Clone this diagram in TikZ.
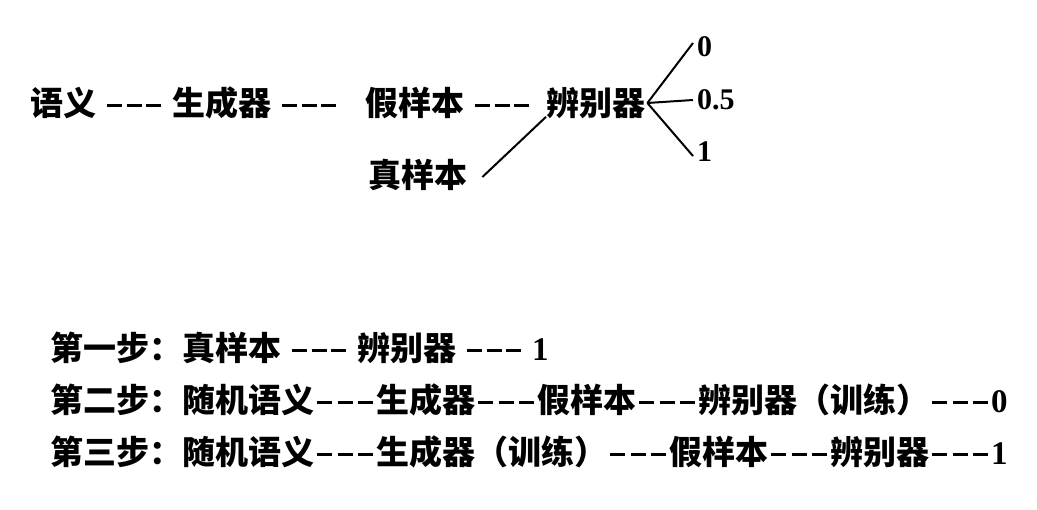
\documentclass[tikz,border=0pt]{standalone}
\usepackage{fontspec}
\setmainfont{Noto Sans CJK SC}
\newfontfamily\numf{Liberation Serif}
\newcommand\dashes[1][62pt]{\makebox[#1][s]{\hspace{3pt}\rule[9pt]{15pt}{2.6pt}\hfill\rule[9pt]{15pt}{2.6pt}\hfill\rule[9pt]{15pt}{2.6pt}\hspace{3pt}}}
\newcommand\sdashes{\hspace{8pt}\dashes[60pt]\hspace{8pt}}
\begin{document}
\begin{tikzpicture}[x=1pt,y=-1pt,
  txt/.style={anchor=west,inner sep=0pt,font=\bfseries\fontsize{33}{34}\selectfont},
  num/.style={anchor=west,inner sep=0pt,font=\numf\bfseries\fontsize{30}{31}\selectfont},
  ln/.style={line width=2pt}]
\useasboundingbox (0,0) rectangle (1037,510);
\node[txt] (a) at (30,103) {语义\sdashes 生成器\sdashes};
\node[txt] (b) at (365,103) {假样本\sdashes};
\node[txt] (d) at (546,103) {辨别器};
\node[txt] (c) at (368,175) {真样本};
\node[num] (o0) at (697,47) {0};
\node[num] (o5) at (697,100) {0.5};
\node[num] (o1) at (697,152) {1};
\coordinate (dj) at ([xshift=2pt]d.east);
\draw[ln] ([xshift=15pt,yshift=-2pt]c.east) -- ([yshift=2pt]d.south west);
\draw[ln] (dj) -- ([xshift=-4pt,yshift=4pt]o0.west);
\draw[ln] (dj) -- ([xshift=-4pt]o5.west);
\draw[ln] (dj) -- ([xshift=-4pt,yshift=-4pt]o1.west);
\node[txt] (s1) at (50,348) {第一步：真样本\sdashes 辨别器\sdashes{\numf 1}};
\node[txt] (s2) at (50,400) {第二步：随机语义\dashes 生成器\dashes 假样本\dashes 辨别器（训练）\dashes{\numf 0}};
\node[txt] (s3) at (50,452) {第三步：随机语义\dashes 生成器（训练）\dashes 假样本\dashes 辨别器\dashes{\numf 1}};
\end{tikzpicture}
\end{document}
